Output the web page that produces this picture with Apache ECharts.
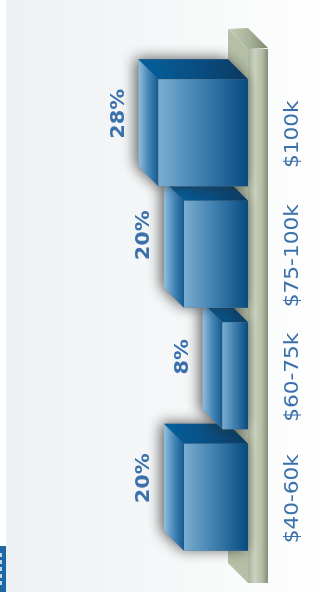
<!DOCTYPE html>
<html>
<head>
<meta charset="utf-8">
<style>html,body{margin:0;padding:0;background:#fff}#chart{width:328px;height:599px}</style>
<script src="https://cdn.jsdelivr.net/npm/echarts@6/dist/echarts.min.js"></script>
</head>
<body>
<div id="chart"></div>
<script>
// Income bands and each band's share, listed from the bottom of the column up.
const incomeBands = ['$40-60k', '$60-75k', '$75-100k', '$100k'];
const sharePercent = [20, 8, 20, 28];

const DEPTH = 20;          // oblique offset of the extruded faces
const WALL_THICKNESS = 20;
const WALL_OVERHANG_TOP = 23;
const WALL_OVERHANG_BOTTOM = 25;
const TEXT_BLUE = '#3a70ab';

const across = (stops) => ({
  type: 'linear', x: 0, y: 0, x2: 1, y2: 0,
  colorStops: stops.map((c) => ({ offset: c[0], color: c[1] }))
});

function poly(points, fill, extra) {
  return Object.assign({
    type: 'polygon',
    shape: { points },
    style: { fill }
  }, extra || {});
}

// The pale green board the columns stand against.
function renderWall(params, api) {
  const sys = params.coordSys;
  const x = api.coord([0, 0])[0];
  const top = sys.y - WALL_OVERHANG_TOP;
  const bottom = sys.y + sys.height + WALL_OVERHANG_BOTTOM;
  return {
    type: 'group',
    children: [
      poly([[x - DEPTH, top - DEPTH], [x, top], [x, bottom], [x - DEPTH, bottom - DEPTH]], '#b4bfa6'),
      poly([[x - DEPTH, top - DEPTH], [x, top - DEPTH - 1], [x + WALL_THICKNESS, top - 1], [x, top]],
        across([[0, '#c6cdb8'], [0.55, '#a7b197'], [1, '#7b8669']]))
    ]
  };
}

// The board's front edge, kept above the column shadows.
function renderWallFront(params, api) {
  const sys = params.coordSys;
  const x = api.coord([0, 0])[0];
  const top = sys.y - WALL_OVERHANG_TOP;
  const bottom = sys.y + sys.height + WALL_OVERHANG_BOTTOM;
  return {
    type: 'rect',
    shape: { x, y: top, width: WALL_THICKNESS, height: bottom - top },
    style: { fill: across([[0, '#aab49c'], [0.35, '#cbd2bf'], [0.7, '#b3bca5'], [1, '#838e78']]) }
  };
}

// One extruded column: soft shadow, side, end and front faces, its percentage
// label, and the band name beyond the board.
function renderColumn(params, api) {
  const value = api.value(0);
  const index = api.value(1);
  const tip = api.coord([value, index]);
  const base = api.coord([0, index]);
  const h = api.size([0, 1])[1] * 0.88;
  const x0 = tip[0], x1 = base[0];
  const y0 = tip[1] - h / 2, y1 = tip[1] + h / 2;
  const silhouette = [[x0 - DEPTH, y0 - DEPTH], [x1 - DEPTH, y0 - DEPTH], [x1, y0], [x1, y1], [x0, y1], [x0 - DEPTH, y1 - DEPTH]];
  return {
    type: 'group',
    children: [
      poly(silhouette, '#777', { style: { fill: '#777', shadowBlur: 14, shadowColor: 'rgba(40,40,40,0.75)', shadowOffsetX: -3, shadowOffsetY: -1 } }),
      poly([[x0 - DEPTH, y0 - DEPTH], [x0, y0], [x0, y1], [x0 - DEPTH, y1 - DEPTH]],
        across([[0, '#93bfde'], [0.5, '#4587b8'], [1, '#14598f']])),
      poly([[x0 - DEPTH, y0 - DEPTH], [x1 - DEPTH, y0 - DEPTH], [x1, y0], [x0, y0]],
        across([[0, '#04609f'], [0.5, '#084f83'], [1, '#0b3a61']])),
      {
        type: 'rect',
        shape: { x: x0, y: y0, width: x1 - x0, height: y1 - y0 },
        style: { fill: across([[0, '#7aadd0'], [0.45, '#4282b0'], [1, '#064b80']]) }
      },
      {
        type: 'text',
        x: x0 - 39.5,
        y: tip[1] - 19,
        rotation: Math.PI / 2,
        scaleX: 1.1,
        style: {
          text: value + '%',
          fill: TEXT_BLUE,
          font: 'bold 19px "DejaVu Sans"',
          align: 'center',
          verticalAlign: 'middle'
        }
      },
      {
        type: 'text',
        x: x1 + 44.5,
        y: tip[1] + 1.5,
        rotation: Math.PI / 2,
        scaleX: 1.11,
        style: {
          text: incomeBands[index],
          fill: TEXT_BLUE,
          font: '19.5px "DejaVu Sans"',
          align: 'center',
          verticalAlign: 'middle'
        }
      }
    ]
  };
}

const tagMarks = [553, 560, 567, 574, 581].map((y) => ({
  type: 'rect', z: -8, shape: { x: 0, y, width: 2, height: 4 }, style: { fill: '#c5d9ea' }
}));

const chart = echarts.init(document.getElementById('chart'), null, { renderer: 'canvas' });
chart.setOption({
  animation: false,
  backgroundColor: '#fff',
  graphic: [
    {
      type: 'rect', z: -10,
      shape: { x: 6, y: 0, width: 322, height: 592 },
      style: { fill: { type: 'linear', x: 0, y: 0, x2: 1, y2: 0, colorStops: [
        { offset: 0, color: '#eef1f3' }, { offset: 0.5, color: '#f5f7f8' }, { offset: 1, color: '#ffffff' }
      ] } }
    },
    { type: 'rect', z: -9, shape: { x: 0, y: 546, width: 6, height: 46 }, style: { fill: '#1f66a6' } }
  ].concat(tagMarks),
  grid: { left: 120, width: 128, top: 72, height: 486 },
  xAxis: { type: 'value', inverse: true, min: 0, max: 40, show: false },
  yAxis: {
    type: 'category',
    data: incomeBands,
    position: 'right',
    axisLine: { show: false },
    axisTick: { show: false },
    splitLine: { show: false },
    axisLabel: { show: false }
  },
  series: [
    { type: 'custom', renderItem: renderWall, data: [[0, 0]], encode: { x: 0, y: 1 }, z: 1, silent: true },
    {
      type: 'custom',
      renderItem: renderColumn,
      data: sharePercent.map((v, i) => [v, i]),
      encode: { x: 0, y: 1 },
      z: 2
    },
    { type: 'custom', renderItem: renderWallFront, data: [[0, 0]], encode: { x: 0, y: 1 }, z: 1.5, zlevel: 0, silent: true }
  ]
});
</script>
</body>
</html>
